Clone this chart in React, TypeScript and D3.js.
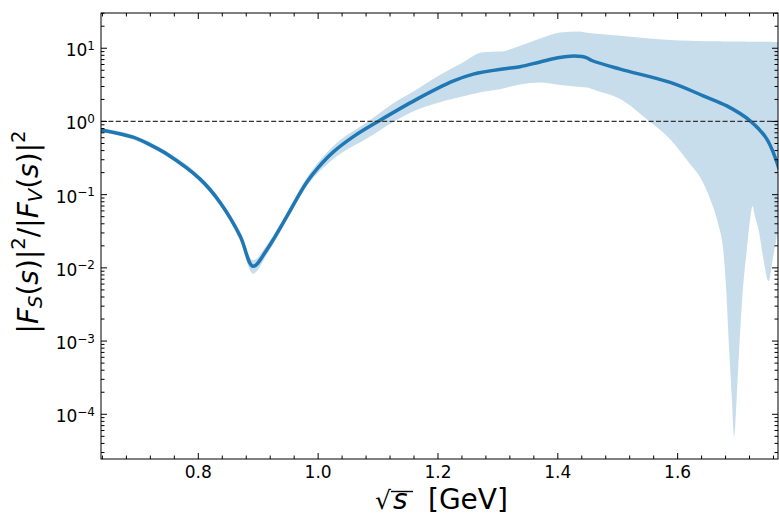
import React from "react";
import * as d3 from "d3";

const W = 779;
const H = 515;
const PLOT = { left: 101, right: 778, top: 13, bottom: 459 };

const X_DOMAIN: [number, number] = [0.6376, 1.7675];
const Y_DOMAIN: [number, number] = [2.45e-5, 30.3];

const xMajorTicks = [0.8, 1.0, 1.2, 1.4, 1.6];
const xTickLabels = ["0.8", "1.0", "1.2", "1.4", "1.6"];
const yDecades = [-4, -3, -2, -1, 0, 1];
const yTickExponents = ["−4", "−3", "−2", "−1", "0", "1"];
const referenceLevel = 1;

// Central value of the ratio
const centralX = [
  0.6376, 0.691, 0.7196, 0.748, 0.803, 0.836, 0.87, 0.8913, 0.915, 0.948, 0.965,
  0.981, 1.0, 1.025, 1.06, 1.1, 1.165, 1.225, 1.259, 1.315, 1.337, 1.3705, 1.4,
  1.4205, 1.44, 1.4484, 1.4568, 1.5041, 1.5876, 1.6427, 1.6821, 1.721, 1.7489, 1.7695,
];
const centralY = [
  0.768, 0.61, 0.48, 0.357, 0.163, 0.079, 0.0271, 0.0105, 0.018, 0.0508, 0.0896,
  0.148, 0.234, 0.381, 0.63, 1.0, 2.02, 3.55, 4.43, 5.3, 5.6, 6.5, 7.4,
  7.8, 7.7, 7.4, 6.8, 5.18, 3.41, 2.24, 1.63, 1.02, 0.573, 0.223,
];

// Uncertainty band
const bandX = [
  0.6376, 0.691, 0.748, 0.803, 0.836, 0.87, 0.8913, 0.915, 0.948, 0.981, 1.025,
  1.0834, 1.1268, 1.1651, 1.192, 1.2368, 1.2753, 1.3037, 1.337, 1.3705, 1.404,
  1.437, 1.4484, 1.4651, 1.5041, 1.5486, 1.5876, 1.621, 1.6376, 1.6543, 1.6677,
  1.676, 1.681, 1.686, 1.6905, 1.6943, 1.6985, 1.7027, 1.7077, 1.7155, 1.721,
  1.7249, 1.7294, 1.7349, 1.7432, 1.7516, 1.7595, 1.7678,
];
const bandLow = [
  0.71, 0.565, 0.33, 0.15, 0.071, 0.0235, 0.0083, 0.0155, 0.045, 0.13, 0.305,
  0.6, 1.0, 1.45, 1.72, 2.15, 2.55, 2.76, 3.2, 3.4, 3.15,
  2.95, 2.9, 2.62, 2.02, 1.07, 0.573, 0.261, 0.173, 0.0868, 0.0396,
  0.018, 0.00512, 0.000776, 0.000161, 0.0000488, 0.000161, 0.000776, 0.00372, 0.018, 0.0463,
  0.0697, 0.0493, 0.0338, 0.0131, 0.00658, 0.0145, 0.0338,
];
const bandHigh = [
  0.81, 0.655, 0.385, 0.178, 0.088, 0.031, 0.0127, 0.021, 0.057, 0.17, 0.46,
  1.0, 1.8, 2.76, 3.8, 6.07, 8.85, 9.0, 10.8, 13.6, 16.4,
  17.0, 16.3, 15.8, 14.8, 13.7, 13.0, 12.7, 12.6, 12.5, 12.45,
  12.4, 12.4, 12.4, 12.4, 12.4, 12.4, 12.4, 12.35, 12.3, 12.3,
  12.3, 12.3, 12.3, 12.25, 12.25, 12.2, 12.2,
];

const FONT = "DejaVu Sans, sans-serif";
const BLUE = "#1f77b4";

export default function App() {
  const x = d3.scaleLinear().domain(X_DOMAIN).range([PLOT.left, PLOT.right]);
  const y = d3.scaleLog().domain(Y_DOMAIN).range([PLOT.bottom, PLOT.top]);

  const centralPts = centralX.map((v, i) => [v, centralY[i]] as [number, number]);
  const bandPts = bandX.map((v, i) => ({ x: v, lo: bandLow[i], hi: bandHigh[i] }));

  const linePath = d3
    .line<[number, number]>()
    .x((d) => x(d[0]))
    .y((d) => y(d[1]))
    .curve(d3.curveCatmullRom.alpha(0.5))(centralPts) as string;

  const bandPath = d3
    .area<{ x: number; lo: number; hi: number }>()
    .x((d) => x(d.x))
    .y0((d) => y(d.lo))
    .y1((d) => y(d.hi))
    .curve(d3.curveMonotoneX)(bandPts) as string;

  const xMinorTicks = d3
    .range(16, 45)
    .map((k) => +(k * 0.04).toFixed(2))
    .filter((v) => v >= X_DOMAIN[0] && v <= X_DOMAIN[1] && !xMajorTicks.some((m) => Math.abs(m - v) < 1e-6));

  const yMinorTicks: number[] = [];
  for (let d = -5; d <= 1; d++) {
    for (let k = 2; k <= 9; k++) {
      const v = k * Math.pow(10, d);
      if (v >= Y_DOMAIN[0] && v <= Y_DOMAIN[1]) yMinorTicks.push(v);
    }
  }

  const MAJ = 6;
  const MIN = 3.5;
  const tickStroke = { stroke: "#000", strokeWidth: 1 };

  return (
    <div style={{ position: "fixed", left: 0, top: 0 }}>
      <svg width={W} height={H} style={{ display: "block", background: "#fff" }}>
        <defs>
          <clipPath id="plot-area">
            <rect x={PLOT.left} y={PLOT.top} width={PLOT.right - PLOT.left} height={PLOT.bottom - PLOT.top} />
          </clipPath>
        </defs>

        <g clipPath="url(#plot-area)">
          <path d={bandPath} fill={BLUE} fillOpacity={0.25} stroke="none" />
          <path d={linePath} fill="none" stroke={BLUE} strokeWidth={3.5} strokeLinejoin="round" />
          <line
            x1={PLOT.left}
            x2={PLOT.right}
            y1={y(referenceLevel)}
            y2={y(referenceLevel)}
            stroke="#333"
            strokeWidth={1.3}
            strokeDasharray="5,2.4"
          />
        </g>

        {/* ticks on all four sides, pointing inward */}
        <g>
          {xMajorTicks.map((v) => (
            <g key={"xM" + v}>
              <line x1={x(v)} x2={x(v)} y1={PLOT.bottom} y2={PLOT.bottom - MAJ} {...tickStroke} />
              <line x1={x(v)} x2={x(v)} y1={PLOT.top} y2={PLOT.top + MAJ} {...tickStroke} />
            </g>
          ))}
          {xMinorTicks.map((v) => (
            <g key={"xm" + v}>
              <line x1={x(v)} x2={x(v)} y1={PLOT.bottom} y2={PLOT.bottom - MIN} {...tickStroke} />
              <line x1={x(v)} x2={x(v)} y1={PLOT.top} y2={PLOT.top + MIN} {...tickStroke} />
            </g>
          ))}
          {yDecades.map((d) => (
            <g key={"yM" + d}>
              <line x1={PLOT.left} x2={PLOT.left + MAJ} y1={y(Math.pow(10, d))} y2={y(Math.pow(10, d))} {...tickStroke} />
              <line x1={PLOT.right} x2={PLOT.right - MAJ} y1={y(Math.pow(10, d))} y2={y(Math.pow(10, d))} {...tickStroke} />
            </g>
          ))}
          {yMinorTicks.map((v) => (
            <g key={"ym" + v}>
              <line x1={PLOT.left} x2={PLOT.left + MIN} y1={y(v)} y2={y(v)} {...tickStroke} />
              <line x1={PLOT.right} x2={PLOT.right - MIN} y1={y(v)} y2={y(v)} {...tickStroke} />
            </g>
          ))}
        </g>

        <rect
          x={PLOT.left}
          y={PLOT.top}
          width={PLOT.right - PLOT.left}
          height={PLOT.bottom - PLOT.top}
          fill="none"
          stroke="#000"
          strokeWidth={1}
        />

        {/* tick labels */}
        <g fontFamily={FONT} fontSize={17} fill="#000">
          {xMajorTicks.map((v, i) => (
            <text key={"xl" + v} x={x(v)} y={478} textAnchor="middle">
              {xTickLabels[i]}
            </text>
          ))}
          {yDecades.map((d, i) => (
            <text key={"yl" + d} x={95} y={y(Math.pow(10, d)) + 8} textAnchor="end">
              10
              <tspan fontSize={12} dy={-6.5}>
                {yTickExponents[i]}
              </tspan>
            </text>
          ))}
        </g>

        {/* x axis title */}
        <g fontFamily={FONT} fill="#000">
          <text x={375} y={509} fontSize={25}>√</text>
          <text x={393} y={509} fontSize={28} fontStyle="italic">s</text>
          <line x1={391} x2={413} y1={491.5} y2={491.5} stroke="#000" strokeWidth={1.4} />
          <text x={428} y={509} fontSize={28}>[GeV]</text>
        </g>

        {/* y axis title */}
        <text
          transform="translate(38,232) rotate(-90)"
          textAnchor="middle"
          fontFamily={FONT}
          fontSize={28}
          fill="#000"
        >
          |<tspan fontStyle="italic">F</tspan>
          <tspan fontStyle="italic" fontSize={19.6} dy={4}>S</tspan>
          <tspan dy={-4}>(</tspan>
          <tspan fontStyle="italic">s</tspan>
          <tspan>)|</tspan>
          <tspan fontSize={19.6} dy={-13}>2</tspan>
          <tspan dy={13}>/|</tspan>
          <tspan fontStyle="italic">F</tspan>
          <tspan fontStyle="italic" fontSize={19.6} dy={4}>V</tspan>
          <tspan dy={-4}>(</tspan>
          <tspan fontStyle="italic">s</tspan>
          <tspan>)|</tspan>
          <tspan fontSize={19.6} dy={-13}>2</tspan>
        </text>
      </svg>
    </div>
  );
}
